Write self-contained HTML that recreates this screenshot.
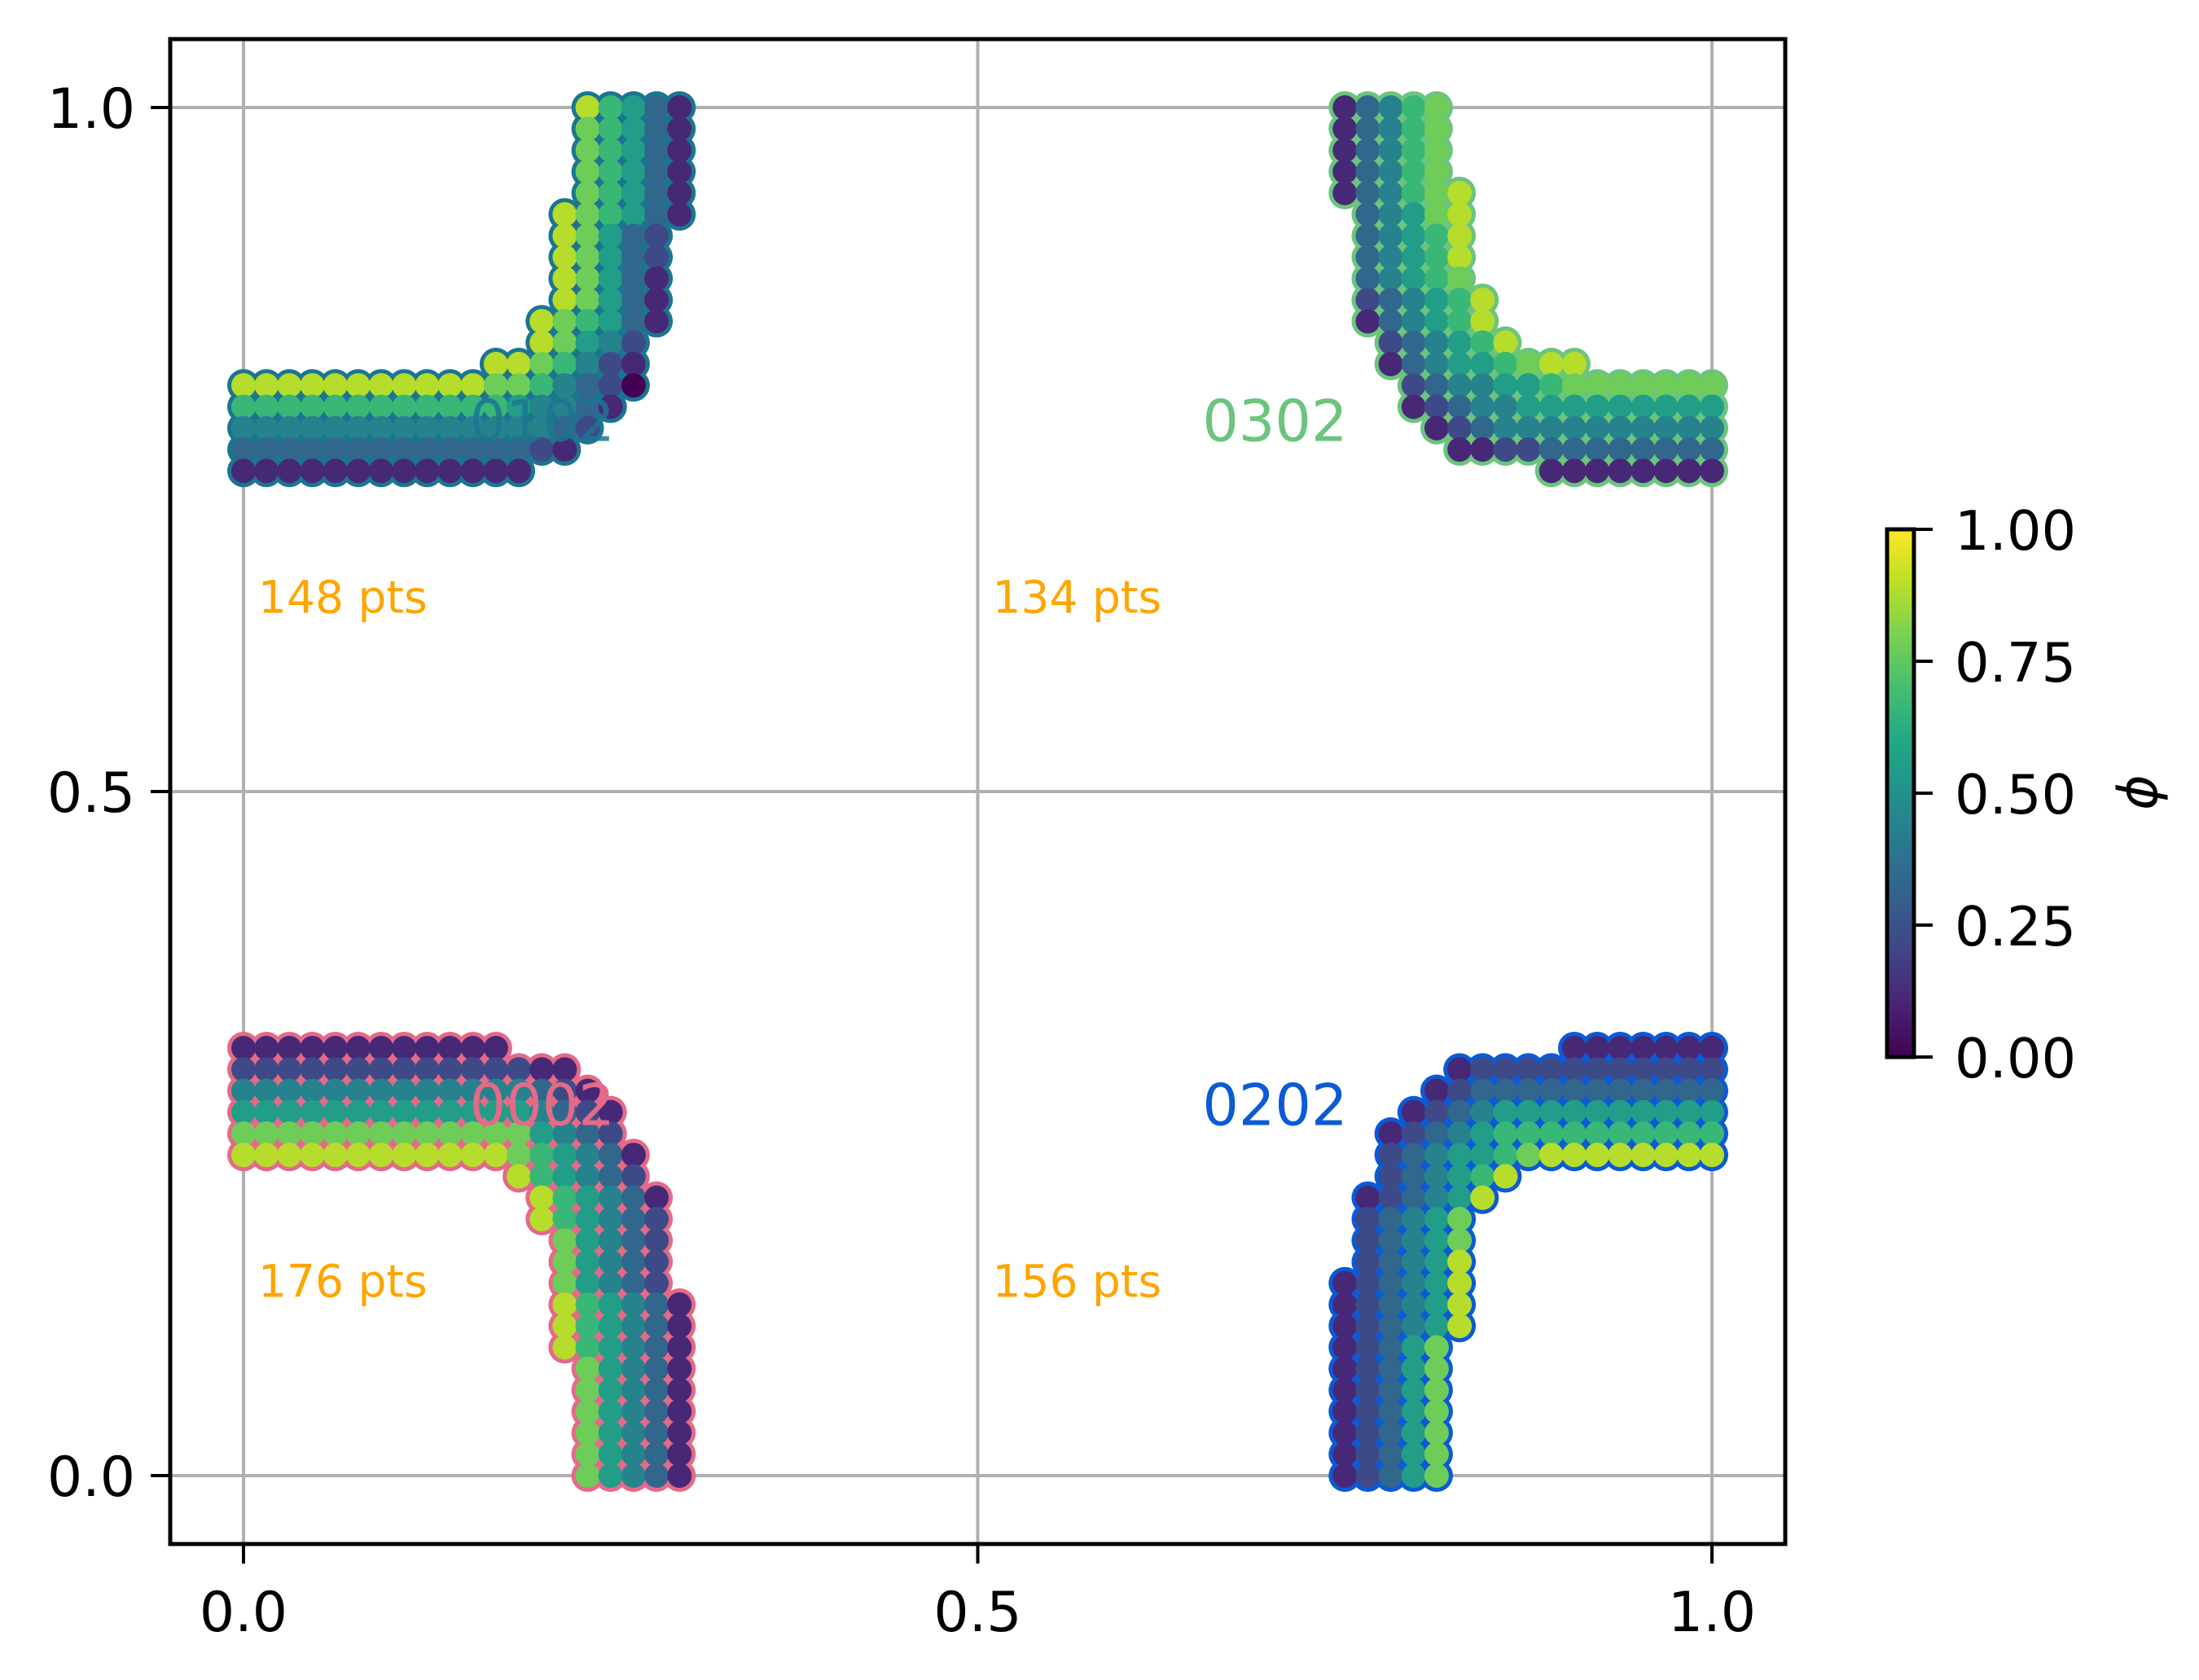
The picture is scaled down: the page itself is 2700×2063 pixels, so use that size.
<!DOCTYPE html>
<html><head><meta charset="utf-8"><style>
html,body{margin:0;padding:0;background:#fff}
svg{display:block}
text{font-family:"DejaVu Sans","Liberation Sans",sans-serif}
</style></head><body>
<svg id="chart" xmlns="http://www.w3.org/2000/svg" width="2700" height="2063" viewBox="0 0 2700 2063">
<rect x="0" y="0" width="2700" height="2063" fill="#fff"/>
<g id="grid"></g>
<g id="marks"></g>
<g id="annot"></g>
<rect x="209" y="48" width="1983" height="1848" fill="none" stroke="#000" stroke-width="5"/>
<g id="axes"></g>
<defs><linearGradient id="vir" x1="0" y1="1" x2="0" y2="0"></linearGradient></defs>
<g id="cbar"></g>
</svg>
<script>
// ---- data ----
const xTicks = [0.0, 0.5, 1.0];
const yTicks = [0.0, 0.5, 1.0];
const xTickLabels = ["0.0", "0.5", "1.0"];
const yTickLabels = ["0.0", "0.5", "1.0"];
const cbTicks = [0, 0.25, 0.5, 0.75, 1.0];
const cbTickLabels = ["0.00", "0.25", "0.50", "0.75", "1.00"];
const gridStep = 1/64;
const shapeNames = ["0002", "0102", "0202", "0302"];
const shapeColors = ["#e56a88", "#1c7590", "#0b5ad6", "#6cc47d"];
const shapeLabelX = [0.154, 0.154, 0.653, 0.653];
const shapeLabelY = [0.271, 0.771, 0.271, 0.771];
const countLabels = ["176 pts", "148 pts", "156 pts", "134 pts"];
const countX = [0.01, 0.01, 0.51, 0.51];
const countY = [0.142, 0.642, 0.142, 0.642];
const shapeTopRow = [20, 64, 20, 64];
const shapeColOffset = [0, 0, 48, 48];
// digits = phi*9 per grid cell, rows from top to bottom
const rows0002 = [
"111111111111........",
"222222222222211.....",
"4444444444444321....",
"55555555555554321...",
"77777777777775432...",
"888888888888765431..",
"............865432..",
".............865431.",
".............865432.",
"..............75432.",
"..............75432.",
"..............75432.",
"..............865431",
"..............865431",
"..............865431",
"...............75431",
"...............75431",
"...............75431",
"...............75431",
"...............75431",
"...............75431"];
const rows0102 = [
"...............86531",
"...............76531",
"...............76531",
"...............76531",
"...............76531",
"..............876531",
"..............87532.",
"..............87532.",
"..............87531.",
"..............87531.",
".............876531.",
".............87542..",
"...........8876421..",
"888888888887764320..",
"66666666666654431...",
"4444444444444432....",
"333333333333321.....",
"1111111111111......."];
const rows0202 = [
"..........1111111",
".....122222222222",
"....1233333333333",
"...12345555555555",
"..123456666666666",
"..234556788888888",
"..234568.........",
".123458..........",
".23457...........",
".23457...........",
".23458...........",
"123458...........",
"123458...........",
"123458...........",
"12357............",
"12357............",
"12357............",
"12357............",
"12357............",
"12357............",
"12357............"];
const rows0302 = [
"13467............",
"13467............",
"13467............",
"13467............",
"134678...........",
".34578...........",
".34568...........",
".34568...........",
".34567...........",
".234568..........",
".134568..........",
"..234568.........",
"..134556788......",
"...23445567777777",
"...12344555555555",
"....1234444444444",
".....112233333333",
".........11111111"];
const shapeRows = [rows0002, rows0102, rows0202, rows0302];

// ---- scales ----
const X0 = 299, X1 = 2102, Y0 = 1812, Y1 = 132;
const sx = v => X0 + v * (X1 - X0);
const sy = v => Y0 - v * (Y0 - Y1);
const NS = "http://www.w3.org/2000/svg";
function mk(tag, attrs, parent) {
  const e = document.createElementNS(NS, tag);
  for (const k in attrs) e.setAttribute(k, attrs[k]);
  parent.appendChild(e);
  return e;
}
const vstops = [[0,"#440154"],[0.1,"#482475"],[0.2,"#414487"],[0.3,"#355f8d"],[0.4,"#2a788e"],[0.5,"#21918c"],[0.6,"#22a884"],[0.7,"#44bf70"],[0.8,"#7ad151"],[0.9,"#bddf26"],[1,"#fde725"]];
function hx(c){return [parseInt(c.substr(1,2),16),parseInt(c.substr(3,2),16),parseInt(c.substr(5,2),16)];}
function viridis(t){
  t=Math.max(0,Math.min(1,t));
  for(let i=1;i<vstops.length;i++){
    if(t<=vstops[i][0]){
      const a=vstops[i-1],b=vstops[i],f=(t-a[0])/(b[0]-a[0]);
      const ca=hx(a[1]),cb=hx(b[1]);
      return "rgb("+ca.map((v,k)=>Math.round(v+(cb[k]-v)*f)).join(",")+")";
    }
  }
  return vstops[vstops.length-1][1];
}

// grid + ticks
const grid = document.getElementById("grid");
const axes = document.getElementById("axes");
xTicks.forEach((v,i)=>{
  const g = mk("line",{x1:sx(v),x2:sx(v),y1:48,y2:1896,stroke:"#b0b0b0","stroke-width":4},grid);
  
  
  const t = mk("line",{x1:sx(v),x2:sx(v),y1:1896,y2:1920,stroke:"#000","stroke-width":4},axes);
  
  
  const l = mk("text",{x:sx(v),y:2003,"font-size":68,"text-anchor":"middle",fill:"#000"},axes);
  l.textContent = xTickLabels[i];
  
  
});
yTicks.forEach((v,i)=>{
  const g = mk("line",{x1:209,x2:2192,y1:sy(v),y2:sy(v),stroke:"#b0b0b0","stroke-width":4},grid);
  
  
  const t = mk("line",{x1:185,x2:209,y1:sy(v),y2:sy(v),stroke:"#000","stroke-width":4},axes);
  
  
  const l = mk("text",{x:166,y:sy(v)+25,"font-size":68,"text-anchor":"end",fill:"#000"},axes);
  l.textContent = yTickLabels[i];
  
  
});

// scatter
const marks = document.getElementById("marks");
shapeRows.forEach((rows,s)=>{
  const g = mk("g",{},marks);
  
  
  const pts = [];
  rows.forEach((row,i)=>{
    const j = shapeTopRow[s]-i;
    for(let c=0;c<row.length;c++){
      const ch=row[c];
      if(ch===".") continue;
      pts.push([(shapeColOffset[s]+c)*gridStep, j*gridStep, parseInt(ch,10)/9]);
    }
  });
  pts.forEach(p=>{
    const e = mk("circle",{cx:sx(p[0]),cy:sy(p[1]),r:20,fill:shapeColors[s]},g);
    
    
  });
  pts.forEach(p=>{
    const e = mk("circle",{cx:sx(p[0]),cy:sy(p[1]),r:15,fill:viridis(p[2])},g);
    
    
  });
});

// annotations
const annot = document.getElementById("annot");
shapeNames.forEach((n,s)=>{
  const t = mk("text",{x:sx(shapeLabelX[s]),y:sy(shapeLabelY[s])+25,"font-size":70,fill:shapeColors[s],"fill-opacity":s===1?0.85:1},annot);
  t.textContent = n;
  
  
  const c = mk("text",{x:sx(countX[s]),y:sy(countY[s])+19,"font-size":55,fill:"#ffa500"},annot);
  c.textContent = countLabels[s];
  
  
});

// colorbar
const grad = document.getElementById("vir");
vstops.forEach(s=>{ mk("stop",{offset:s[0],"stop-color":s[1]},grad); });
const cb = document.getElementById("cbar");
const CBT=650, CBB=1298, CBL=2317, CBR=2350;
const cy = v => CBB - v*(CBB-CBT);
const cbr = mk("rect",{x:CBL,y:CBT,width:CBR-CBL,height:CBB-CBT,fill:"url(#vir)",stroke:"#000","stroke-width":5},cb);


cbTicks.forEach((v,i)=>{
  const t = mk("line",{x1:CBR,x2:CBR+23,y1:cy(v),y2:cy(v),stroke:"#000","stroke-width":4},cb);
  
  
  const l = mk("text",{x:2400,y:cy(v)+25,"font-size":67,fill:"#000"},cb);
  l.textContent = cbTickLabels[i];
  
  
});
const lab = mk("text",{x:0,y:0,"font-size":66,"font-style":"italic","text-anchor":"middle",transform:"translate(2648,973) rotate(-90)",fill:"#000"},cb);
lab.textContent = "ϕ";


</script>
</body></html>
